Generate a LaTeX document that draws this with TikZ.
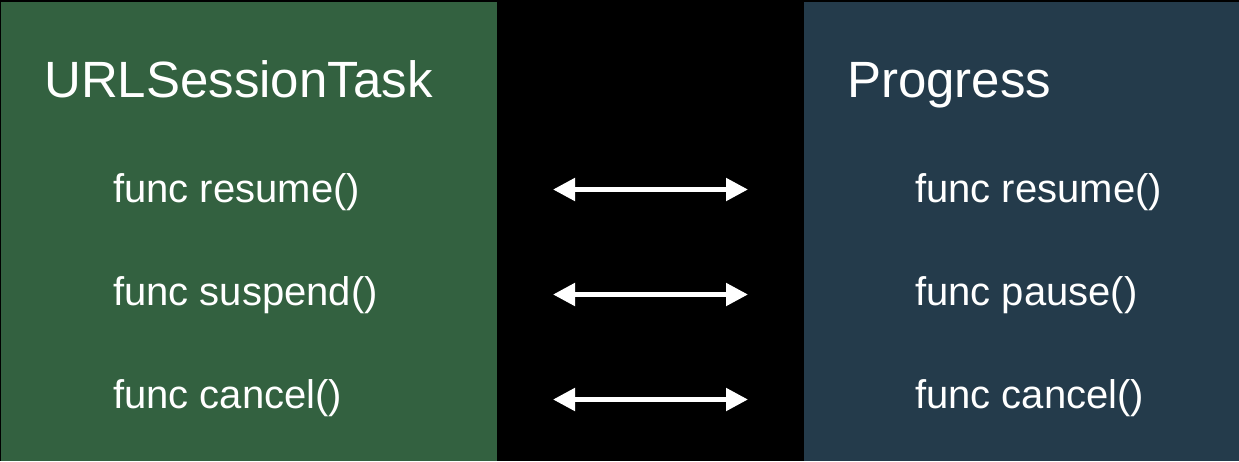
\documentclass[tikz,border=0pt]{standalone}
\usepackage{fontspec}
\setmainfont{Liberation Sans}
\usetikzlibrary{arrows.meta}
\definecolor{taskgreen}{HTML}{336140}
\definecolor{progblue}{HTML}{243B4B}
\tikzset{
  title/.style={anchor=base west, inner sep=0pt, text=white, font=\fontsize{51}{60}\selectfont},
  func/.style={anchor=base west, inner sep=0pt, text=white, font=\fontsize{40}{48}\selectfont},
  link/.style={draw=white, line width=5pt, {Triangle[length=22pt,width=22pt]}-{Triangle[length=22pt,width=22pt]}}
}
\begin{document}
\begin{tikzpicture}[x=1pt,y=-1pt]
\fill[black] (0,0) rectangle (1239,461);
\useasboundingbox (0,0) rectangle (1239,461);
\fill[taskgreen] (1,2) rectangle (497,461);
\fill[progblue] (804,2) rectangle (1239,461);
\node[title] (lt) at (44,97) {URLSessionTask};
\node[title] (rt) at (847,97) {Progress};
\node[func] (l1) at (113,202) {func resume()};
\node[func] (l2) at (113,305) {func suspend()};
\node[func] (l3) at (113,408) {func cancel()};
\node[func] (r1) at (915,202) {func resume()};
\node[func] (r2) at (915,305) {func pause()};
\node[func] (r3) at (915,408) {func cancel()};
\coordinate (a1l) at (553,189.5);
\coordinate (a1r) at (748,189.5);
\coordinate (a2l) at (553,294.5);
\coordinate (a2r) at (748,294.5);
\coordinate (a3l) at (553,399.5);
\coordinate (a3r) at (748,399.5);
\draw[link] (a1l) -- (a1r);
\draw[link] (a2l) -- (a2r);
\draw[link] (a3l) -- (a3r);
\end{tikzpicture}
\end{document}
